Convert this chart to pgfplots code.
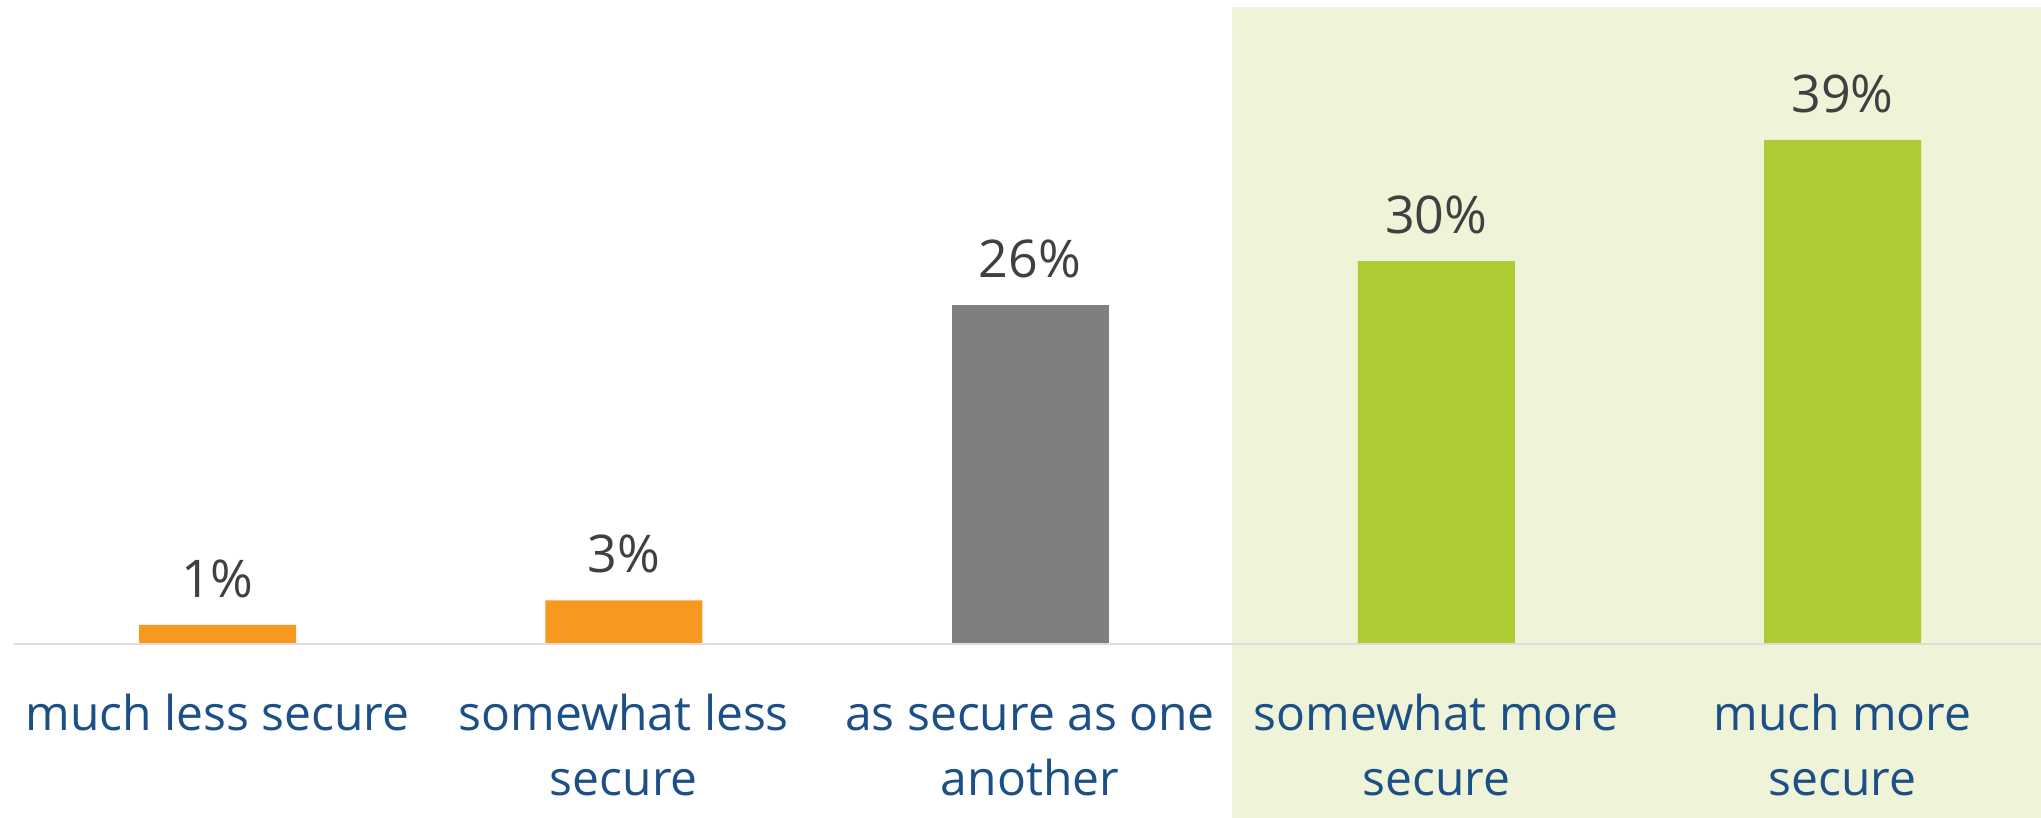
\documentclass[border=0pt]{standalone}
\usepackage{fontspec}
\setmainfont{Open Sans}
\usepackage{pgfplots}
\pgfplotsset{compat=1.18}
\definecolor{barorange}{HTML}{F7991F}
\definecolor{bargray}{HTML}{7F7F7F}
\definecolor{bargreen}{HTML}{ADCB32}
\definecolor{bggreen}{HTML}{EFF4D9}
\definecolor{labelblue}{HTML}{1B4F86}
\definecolor{valgray}{HTML}{404040}
\definecolor{axisgray}{HTML}{DDDDDD}
\begin{document}
\begin{tikzpicture}
\begin{axis}[
  name=ax,
  set layers,
  scale only axis,
  width=1013.3pt, height=321.5pt,
  xmin=-0.5, xmax=4.4886,
  ymin=0, ymax=49.85,
  clip=false,
  ybar, bar width=78.5pt, bar shift=0pt,
  axis line style={draw=none},
  major tick length=0pt,
  ytick=\empty,
  xtick={0,1,2,3,4},
  xticklabels={{\strut much less secure}, {\strut somewhat less\\secure}, {\strut as secure as one\\another}, {\strut somewhat more\\secure}, {\strut much more\\secure}},
  xticklabel style={font=\fontsize{24}{32.5}\selectfont, text=labelblue, align=center, anchor=north, inner sep=0pt, yshift=-20.75pt},
  /pgf/number format/assume math mode=true,
  nodes near coords={\pgfmathprintnumber[fixed,precision=0]{\pgfplotspointmeta}\%},
  nodes near coords style={font=\fontsize{26}{30}\selectfont, text=valgray, anchor=base, yshift=13.75pt},
]
\begin{pgfonlayer}{axis background}
\fill[bggreen] (axis cs:2.4966,49.3) rectangle (axis cs:4.7,-20);
\end{pgfonlayer}
\begin{pgfonlayer}{axis grid}
\draw[axisgray, line width=1pt] (axis cs:-0.5,-0.04) -- (axis cs:4.7,-0.04);
\end{pgfonlayer}
\addplot[fill=barorange, draw=none] coordinates {(0,1.4) (1,3.3)};
\addplot[fill=bargray, draw=none] coordinates {(2,26.2)};
\addplot[fill=bargreen, draw=none] coordinates {(3,29.6) (4,39.0)};
\end{axis}
\pgfresetboundingbox
\path (ax.south west) ++(-7.2pt,-87.5pt) rectangle (ax.north east);
\end{tikzpicture}
\end{document}
